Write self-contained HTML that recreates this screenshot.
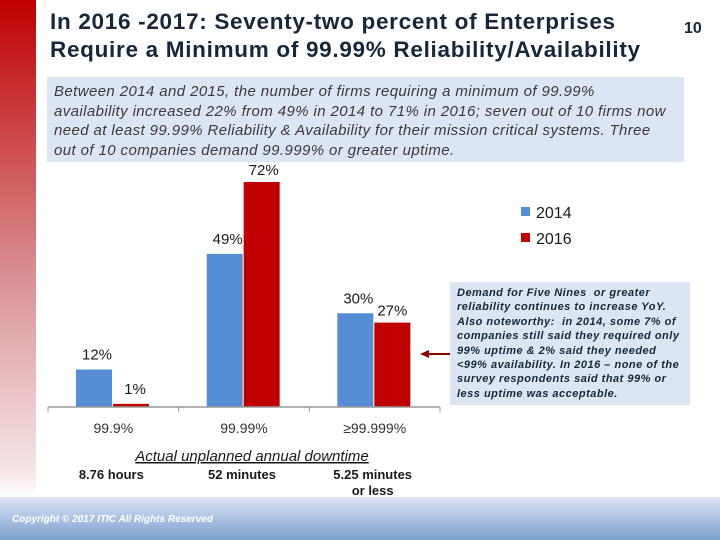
<!DOCTYPE html>
<html><head><meta charset="utf-8"><style>
body{margin:0;width:720px;height:540px;position:relative;overflow:hidden;background:#fff;font-family:"Liberation Sans",sans-serif}
.abs{position:absolute}
</style></head><body>
<div class="abs" style="left:0;top:0;width:36px;height:497px;background:linear-gradient(#c00000,#d98f93 55%,#f6e6e7 95%,#fff)"></div>
<div class="abs" style="left:50px;top:8px;font-size:22.5px;font-weight:bold;color:#17273a;line-height:28px;white-space:nowrap;letter-spacing:0.7px">In 2016 -2017: Seventy-two percent of Enterprises<br>Require a Minimum of 99.99% Reliability/Availability</div>
<div class="abs" style="left:684px;top:20px;font-size:16px;font-weight:bold;color:#17273a">10</div>
<div class="abs" style="left:47px;top:77px;width:637px;height:85px;background:#dce6f2"></div>
<div class="abs" style="left:54px;top:82px;width:630px;font-size:15px;font-style:italic;color:#3a3a3a;line-height:19.5px;white-space:nowrap;letter-spacing:0.4px">Between 2014 and 2015, the number of firms requiring a minimum of 99.99%<br>availability increased 22% from 49% in 2014 to 71% in 2016; seven out of 10 firms now<br>need at least 99.99% Reliability &amp; Availability for their mission critical systems. Three<br>out of 10 companies demand 99.999% or greater uptime.</div>
<svg class="abs" style="left:0;top:0" width="720" height="540" id="chart"></svg>
<div class="abs" style="left:450px;top:282px;width:240px;height:123px;background:#dce6f2"></div>
<div class="abs" style="left:457px;top:286px;width:232px;font-size:11px;font-weight:bold;font-style:italic;color:#17273a;line-height:14.4px;white-space:nowrap;letter-spacing:0.5px">Demand for Five Nines&nbsp; or greater<br>reliability continues to increase YoY.<br>Also noteworthy:&nbsp; in 2014, some 7% of<br>companies still said they required only<br>99% uptime &amp; 2% said they needed<br>&lt;99% availability. In 2016 – none of the<br>survey respondents said that 99% or<br>less uptime was acceptable.</div>
<div class="abs" style="left:0;top:497px;width:720px;height:43px;background:linear-gradient(#dfe3f8,#7aa0cc)"></div>
<div class="abs" style="left:12px;top:514px;font-size:10px;font-weight:bold;font-style:italic;color:#fff">Copyright © 2017 ITIC All Rights Reserved</div>
<script>
const categories=["99.9%","99.99%","≥99.999%"];
const downtime=[["8.76 hours"],["52 minutes"],["5.25 minutes","or less"]];
const series2014=[12,49,30];
const series2016=[1,72,27];
const seriesNames=["2014","2016"];
const NS="http://www.w3.org/2000/svg";
const svg=document.getElementById('chart');
const x0=48,x1=440,base=407,pxPer=3.125;
const bw=(x1-x0)/categories.length;
const y=v=>base-v*pxPer;
function mk(t,a,txt){const e=document.createElementNS(NS,t);for(const k in a)e.setAttribute(k,a[k]);if(txt!=null)e.textContent=txt;svg.appendChild(e);return e;}
const colors=["#558ed5","#c00000"];
[series2014,series2016].forEach((s,si)=>{
 s.forEach((v,i)=>{
  const bx=x0+i*bw+28+si*37;
  const r=mk('rect',{x:bx,y:y(v),width:36,height:base-y(v),fill:colors[si]});
  
  
  const lx=si===0?bx+21:(i===0?bx+22:(i===2?bx+18:bx+20));
  const ly=si===0?y(v)-10:(i===0?y(v)-10:(i===2?y(v)-7:y(v)-7));
  const t=mk('text',{x:lx,y:ly,'font-size':15,fill:'#1a1a1a','text-anchor':'middle'},v+'%');
  
  
 });
});
const ax=mk('line',{x1:x0,y1:base,x2:x1,y2:base,stroke:'#999','stroke-width':1.5});


for(let i=0;i<=categories.length;i++){const tk=mk('line',{x1:x0+i*bw,y1:base,x2:x0+i*bw,y2:base+5,stroke:'#999'});
 
 }
categories.forEach((c,i)=>{
 const t=mk('text',{x:x0+i*bw+bw/2,y:base+26,'font-size':14,fill:'#333','text-anchor':'middle'},c);
 
 
 downtime[i].forEach((d,j)=>{const u=mk('text',{x:x0+i*bw+bw/2-2,y:479+j*16,'font-size':13,'font-weight':'bold',fill:'#1a1a1a','text-anchor':'middle'},d);
  
  });
});
const at=mk('text',{x:252,y:461,'font-size':15,'font-style':'italic',fill:'#1a1a1a','text-anchor':'middle','text-decoration':'underline'},'Actual unplanned annual downtime');


seriesNames.forEach((n,i)=>{
 const r=mk('rect',{x:521,y:207+i*26,width:9,height:9,fill:colors[i]});
 
 
 const t=mk('text',{x:536,y:218+i*26,'font-size':16,fill:'#1a1a1a'},n);
 
 
});
const ar=mk('line',{x1:452,y1:354,x2:428,y2:354,stroke:'#8b0000','stroke-width':2});


const ah=mk('path',{d:'M420 354 L429 350 L429 358 Z',fill:'#8b0000'});


</script>
</body></html>
